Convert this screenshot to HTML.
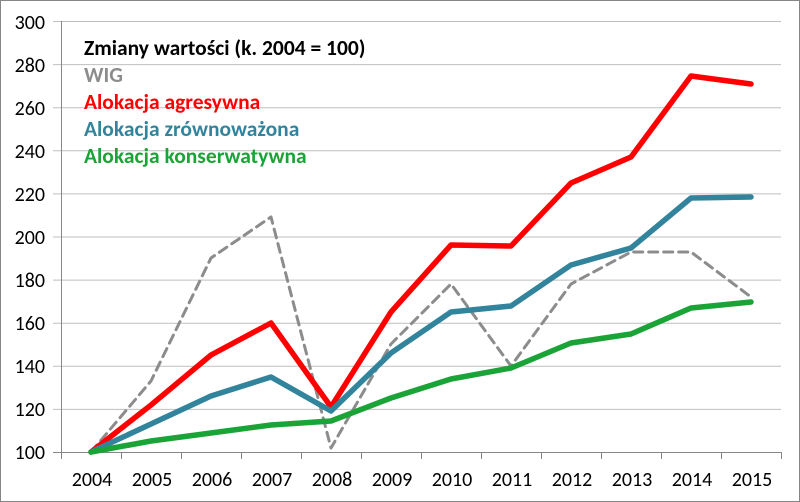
<!DOCTYPE html>
<html><head><style>body{margin:0;background:#fff}svg{display:block}</style></head><body>
<svg width="800" height="502" viewBox="0 0 800 502" xmlns="http://www.w3.org/2000/svg" font-family="Carlito, 'Liberation Sans', sans-serif">
<rect x="0.5" y="0.5" width="799" height="501" fill="#fff" stroke="#868686"/>
<g stroke="#bfbfbf" stroke-width="1">
<line x1="53" y1="21.5" x2="781" y2="21.5"/><line x1="53" y1="64.6" x2="781" y2="64.6"/><line x1="53" y1="107.7" x2="781" y2="107.7"/><line x1="53" y1="150.8" x2="781" y2="150.8"/><line x1="53" y1="193.9" x2="781" y2="193.9"/><line x1="53" y1="237" x2="781" y2="237"/><line x1="53" y1="280.1" x2="781" y2="280.1"/><line x1="53" y1="323.2" x2="781" y2="323.2"/><line x1="53" y1="366.3" x2="781" y2="366.3"/><line x1="53" y1="409.4" x2="781" y2="409.4"/>
</g>
<g stroke="#868686" stroke-width="1">
<line x1="61.5" y1="21" x2="61.5" y2="452"/>
<line x1="53" y1="452.5" x2="781" y2="452.5"/>
<path d="M61.5 452v7M121.5 452v7M181.5 452v7M241.5 452v7M301.5 452v7M361.5 452v7M421.5 452v7M481.5 452v7M541.5 452v7M601.5 452v7M661.5 452v7M721.5 452v7M781.5 452v7"/>
</g>
<g font-size="20" fill="#000" text-anchor="end">
<text x="45" y="29">300</text><text x="45" y="72">280</text><text x="45" y="115">260</text><text x="45" y="158">240</text><text x="45" y="201">220</text><text x="45" y="244">200</text><text x="45" y="287">180</text><text x="45" y="330">160</text><text x="45" y="373">140</text><text x="45" y="416">120</text><text x="45" y="459">100</text>
</g>
<g font-size="20" fill="#000" text-anchor="middle">
<text x="92" y="486">2004</text><text x="152" y="486">2005</text><text x="212" y="486">2006</text><text x="272" y="486">2007</text><text x="332" y="486">2008</text><text x="392" y="486">2009</text><text x="452" y="486">2010</text><text x="512" y="486">2011</text><text x="572" y="486">2012</text><text x="632" y="486">2013</text><text x="692" y="486">2014</text><text x="752" y="486">2015</text>
</g>
<g fill="none" stroke-linejoin="round" stroke-linecap="round">
<polyline stroke="#8c8c8c" stroke-width="3" stroke-dasharray="9,6" points="91,452 151,381 211,258 271,217 331,448 391,344 451,284 511,366 571,284 631,252 691,252 751,297"/>
<polyline stroke="#ff0000" stroke-width="5.5" points="91,452 151,405 211,355 271,323 331,407 391,312 451,245 511,246 571,183 631,157 691,76 751,84"/>
<polyline stroke="#31849b" stroke-width="5.5" points="91,452 151,424 211,396 271,377 331,411 391,353 451,312 511,306 571,265 631,248 691,198 751,197"/>
<polyline stroke="#1aa336" stroke-width="5.5" points="91,452 151,441 211,433 271,425 331,421 391,398 451,379 511,368 571,343 631,334 691,308 751,302"/>
</g>
<g font-size="21.5" font-weight="bold">
<text x="84" y="55" fill="#000">Zmiany wartości (k. 2004 = 100)</text>
<text x="84" y="82" fill="#8c8c8c">WIG</text>
<text x="84" y="109" fill="#ff0000">Alokacja agresywna</text>
<text x="84" y="136" fill="#31849b">Alokacja zrównoważona</text>
<text x="84" y="163" fill="#1aa336">Alokacja konserwatywna</text>
</g>
</svg>
</body></html>
